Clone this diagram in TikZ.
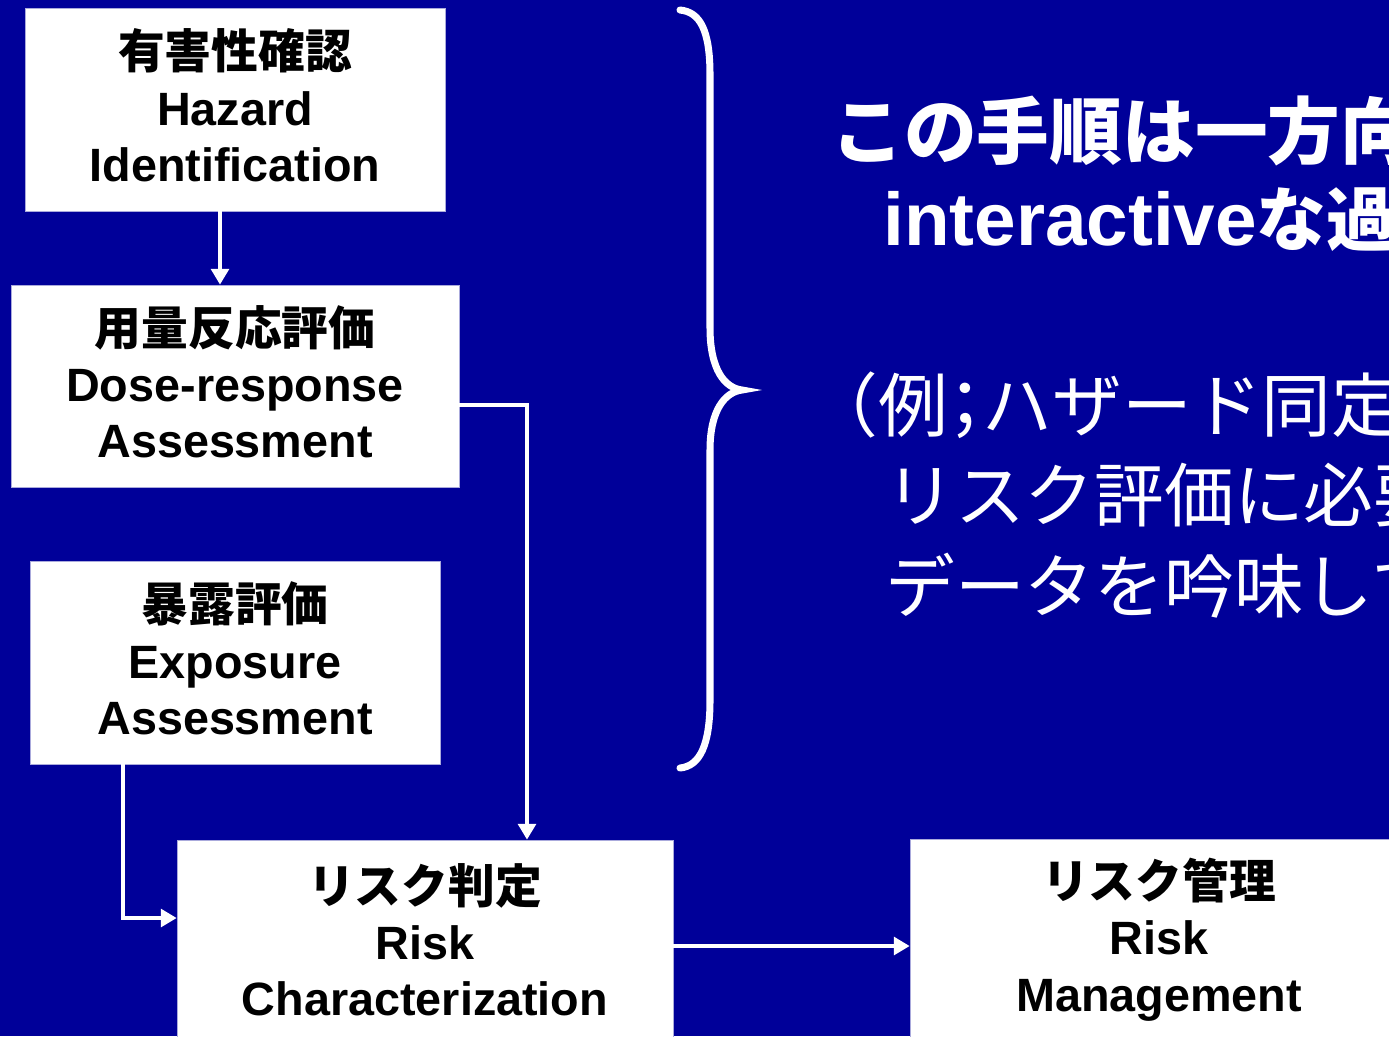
\documentclass[tikz,border=0pt]{standalone}
\usepackage{fontspec}
\setmainfont{Liberation Sans}
\newfontfamily\cjk{Noto Sans CJK JP}
\usetikzlibrary{arrows.meta}
\definecolor{bg}{RGB}{0,0,153}
\definecolor{edge}{RGB}{170,170,220}
\newcommand\lowdepth{\rule[-5pt]{0pt}{0pt}}
\tikzset{
  box/.style={fill=white, draw=edge, line width=0.4pt, inner sep=0pt, align=center,
    font=\fontsize{26.6}{32}\selectfont\bfseries},
  conn/.style={draw=white, line width=2.5pt, -{Triangle[width=10pt,length=9pt]}},
  side/.style={text=white, anchor=base west, inner sep=0pt,
    font=\fontsize{39.7}{46}\selectfont},
}
\begin{document}
\begin{tikzpicture}[x=0.02cm, y=-0.02cm]
\useasboundingbox (0,0) rectangle (1389,1036);
\clip (0,0) rectangle (1389,1036);
\fill[bg] (0,0) rectangle (1389,1036);

\node[box, minimum width=8.4cm, minimum height=4.06cm] (haz) at (235,109.5)
  {{\cjk\bfseries 有害性確認}\\Hazard\\Identification\lowdepth};
\node[box, minimum width=8.96cm, minimum height=4.04cm] (dose) at (235,386)
  {{\cjk\bfseries 用量反応評価}\\Dose-response\\Assessment\lowdepth};
\node[box, minimum width=8.2cm, minimum height=4.06cm] (expo) at (235,662.5)
  {{\cjk\bfseries 暴露評価}\\Exposure\\Assessment\lowdepth};
\node[box, minimum width=9.92cm, minimum height=4cm] (rc) at (425,940)
  {{\cjk\bfseries リスク判定}\\Risk\\Characterization};
\node[box, minimum width=9.96cm, minimum height=4.02cm] (rm) at (1159,939.5)
  {{\cjk\bfseries リスク管理}\\Risk\\Management};

\coordinate (h1) at (220,0);
\coordinate (d1) at (527,405);
\coordinate (e1) at (123,918);
\coordinate (r1) at (0,946);
\draw[conn] (haz.south -| h1) -- (dose.north -| h1);
\draw[conn] (dose.east |- d1) -- (d1) -- (rc.north -| d1);
\draw[conn] (expo.south -| e1) -- (e1) -- (rc.west |- e1);
\draw[conn] (rc.east |- r1) -- (rm.west |- r1);

\draw[white, line width=4pt, line cap=round]
  (680,10) .. controls (700,12) and (710,30) .. (710,75) -- (710,328)
  .. controls (710,370) and (725,388) .. (742,390)
  .. controls (725,392) and (710,410) .. (710,450) -- (710,700)
  .. controls (710,745) and (700,766) .. (680,768);

\node[side, font=\fontsize{41.4}{46}\selectfont] (t1) at (831,158) {\cjk\bfseries この手順は一方向};
\node[side] (t2) at (883,245) {\fontsize{42.5}{46}\selectfont\bfseries interactive{\fontsize{39.7}{46}\selectfont\cjk な過}};
\node[side] (t3) at (843,431) {\cjk \makebox[.5em][r]{（}例\makebox[.5em][c]{；}ハザード同定};
\node[side] (t4) at (885,521) {\cjk リスク評価に必要};
\node[side] (t5) at (885,612) {\cjk データを吟味して};
\end{tikzpicture}
\end{document}
